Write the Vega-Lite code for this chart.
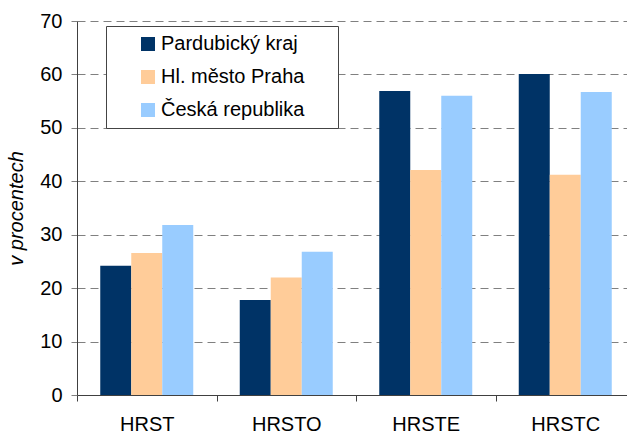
{
  "$schema": "https://vega.github.io/schema/vega-lite/v6.json",
  "width": 550,
  "height": 374,
  "autosize": "none",
  "padding": {"left": 77, "top": 21, "right": 0, "bottom": 39},
  "background": "white",
  "config": {
    "view": {"stroke": null},
    "font": "Liberation Sans"
  },
  "data": {
    "values": [
      {"cat": "HRST", "series": "Pardubický kraj", "value": 24.2},
      {"cat": "HRST", "series": "Hl. město Praha", "value": 26.6},
      {"cat": "HRST", "series": "Česká republika", "value": 31.8},
      {"cat": "HRSTO", "series": "Pardubický kraj", "value": 17.8},
      {"cat": "HRSTO", "series": "Hl. město Praha", "value": 22.0},
      {"cat": "HRSTO", "series": "Česká republika", "value": 26.8},
      {"cat": "HRSTE", "series": "Pardubický kraj", "value": 56.9},
      {"cat": "HRSTE", "series": "Hl. město Praha", "value": 42.1},
      {"cat": "HRSTE", "series": "Česká republika", "value": 56.0},
      {"cat": "HRSTC", "series": "Pardubický kraj", "value": 60.1},
      {"cat": "HRSTC", "series": "Hl. město Praha", "value": 41.2},
      {"cat": "HRSTC", "series": "Česká republika", "value": 56.7}
    ]
  },
  "mark": {"type": "bar"},
  "encoding": {
    "x": {
      "field": "cat",
      "type": "nominal",
      "sort": ["HRST", "HRSTO", "HRSTE", "HRSTC"],
      "scale": {"range": [0, 558], "paddingInner": 0, "paddingOuter": 0},
      "axis": {
        "title": null,
        "labelAngle": 0,
        "tickBand": "extent",
        "grid": false,
        "domainColor": "#404040",
        "tickColor": "#404040",
        "tickSize": 6,
        "labelFontSize": 20,
        "labelColor": "#000000",
        "labelPadding": 13
      }
    },
    "xOffset": {
      "field": "series",
      "type": "nominal",
      "sort": ["Pardubický kraj", "Hl. město Praha", "Česká republika"],
      "scale": {"paddingInner": 0, "paddingOuter": 0.75}
    },
    "y": {
      "field": "value",
      "type": "quantitative",
      "scale": {"domain": [0, 70], "nice": false},
      "axis": {
        "values": [0, 10, 20, 30, 40, 50, 60, 70],
        "title": "v procentech",
        "titleFontStyle": "italic",
        "titleFontWeight": "normal",
        "titleFontSize": 20,
        "titleColor": "#000000",
        "titlePadding": 13,
        "labelFontSize": 20,
        "labelColor": "#000000",
        "labelPadding": 9,
        "tickSize": 6,
        "tickColor": "#808080",
        "domainColor": "#404040",
        "gridColor": "#808080",
        "gridDash": [8, 5],
        "gridWidth": 1
      }
    },
    "color": {
      "field": "series",
      "type": "nominal",
      "sort": ["Pardubický kraj", "Hl. město Praha", "Česká republika"],
      "scale": {
        "domain": ["Pardubický kraj", "Hl. město Praha", "Česká republika"],
        "range": ["#003366", "#FFCC99", "#99CCFF"]
      },
      "legend": {
        "orient": "none",
        "legendX": 29,
        "legendY": 5,
        "title": ".",
        "titleOrient": "right",
        "titleOpacity": 0,
        "titlePadding": 22,
        "padding": 8,
        "fillColor": "white",
        "strokeColor": "#444444",
        "symbolType": "square",
        "symbolSize": 196,
        "symbolStrokeWidth": 0,
        "symbolOffset": 24,
        "labelOffset": 3,
        "labelFontSize": 20,
        "labelColor": "#000000",
        "labelLimit": 300,
        "rowPadding": 13
      }
    }
  }
}
